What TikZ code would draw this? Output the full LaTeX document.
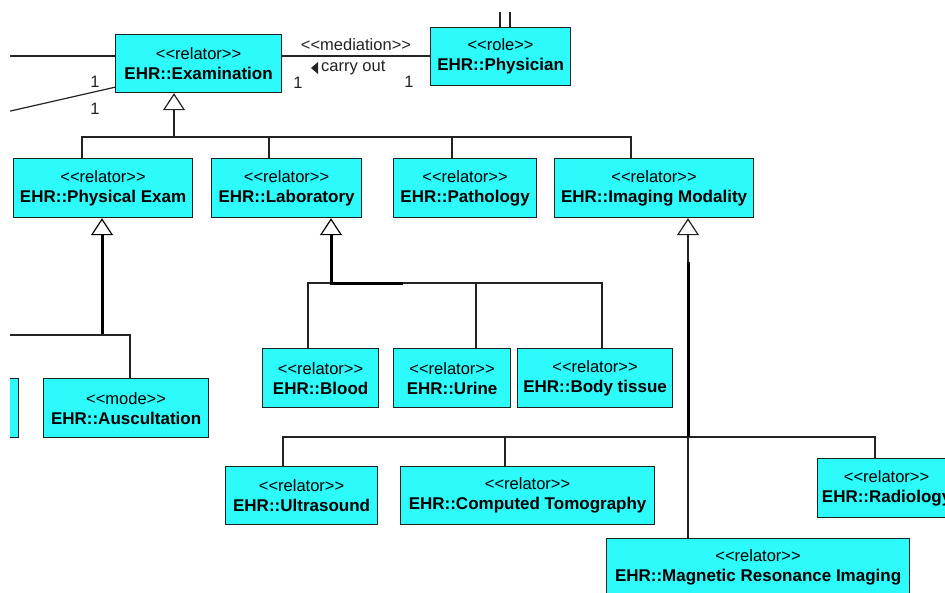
\documentclass[tikz,border=0pt]{standalone}
\usepackage{fontspec}
\setmainfont{Liberation Sans}
\usetikzlibrary{arrows.meta,calc}
\definecolor{boxfill}{RGB}{45,250,250}
\definecolor{ink}{RGB}{35,35,35}
\newcommand{\stype}[1]{<{}<#1>{}>}
\newcommand{\cname}[1]{{\fontsize{17}{21}\selectfont\bfseries #1}}
\begin{document}
\begin{tikzpicture}[x=1pt,y=-1pt,
  umlbox/.style={draw=ink, fill=boxfill, line width=1.2pt, anchor=north west,
    inner sep=0pt, minimum height=59pt, align=center,
    font=\fontsize{16.5}{21}\selectfont, text=black},
  conn/.style={draw=ink, line width=1.2pt},
  heavy/.style={draw=black, line width=3pt},
  gen/.style={conn, -{Triangle[open, length=17pt, width=22pt, line width=1.2pt]}},
  lbl/.style={font=\fontsize{16.5}{20}\selectfont, text=ink, inner sep=0pt}]

\fill[white] (0,0) rectangle (945,592);
\useasboundingbox (0,0) rectangle (945,592);

\begin{scope}
\clip (10,12) rectangle (945,592);

% ---------- classes ----------
\node[umlbox, minimum width=166pt, minimum height=58pt] (exam) at (115,34)
  {\stype{relator}\\[-1pt]\cname{EHR::Examination}};
\node[umlbox, minimum width=140pt, minimum height=58pt] (phys) at (430,27)
  {\stype{role}\\[-1pt]\cname{EHR::Physician}};

\node[umlbox, minimum width=179pt] (physexam) at (13,158)
  {\stype{relator}\\[-1pt]\cname{EHR::Physical Exam}};
\node[umlbox, minimum width=150pt] (lab) at (211,158)
  {\stype{relator}\\[-1pt]\cname{EHR::Laboratory}};
\node[umlbox, minimum width=143pt] (path) at (393,158)
  {\stype{relator}\\[-1pt]\cname{EHR::Pathology}};
\node[umlbox, minimum width=199pt] (imaging) at (554,158)
  {\stype{relator}\\[-1pt]\cname{EHR::Imaging Modality}};

\node[umlbox, anchor=north east, minimum width=80pt] (sibling) at (19,378) {};
\node[umlbox, minimum width=165pt] (ausc) at (43,378)
  {\stype{mode}\\[-1pt]\cname{EHR::Auscultation}};

\node[umlbox, minimum width=116pt] (blood) at (262,348)
  {\stype{relator}\\[-1pt]\cname{EHR::Blood}};
\node[umlbox, minimum width=117pt] (urine) at (393,348)
  {\stype{relator}\\[-1pt]\cname{EHR::Urine}};
\node[umlbox, minimum width=155pt] (body) at (517,348)
  {\stype{relator}\\[-1pt]\cname{EHR::Body tissue}};

\node[umlbox, minimum width=152pt, minimum height=58pt] (ultra) at (225,466)
  {\stype{relator}\\[-1pt]\cname{EHR::Ultrasound}};
\node[umlbox, minimum width=254pt, minimum height=58pt] (ct) at (400,466)
  {\stype{relator}\\[-1pt]\cname{EHR::Computed Tomography}};
\node[umlbox, minimum width=138pt] (radio) at (817,458)
  {\stype{relator}\\[-1pt]\cname{EHR::Radiology}};
\node[umlbox, minimum width=303pt, minimum height=58pt] (mri) at (606,538)
  {\stype{relator}\\[-1pt]\cname{EHR::Magnetic Resonance Imaging}};

% ---------- associations ----------
\coordinate (m0) at (0,56);
\draw[conn] (m0) -- (m0 -| exam.west);
\draw[conn] (m0 -| exam.east) -- (m0 -| phys.west);
\coordinate (dg) at (0,113.4);
\draw[conn] (dg) -- ($(exam.south west)+(0,-6)$);
\coordinate (u1) at (500,0);
\coordinate (u2) at (510,0);
\draw[conn] (u1) -- (u1 |- phys.north);
\draw[conn] (u2) -- (u2 |- phys.north);

\node[lbl] (medlbl) at (356,45) {\stype{mediation}};
\node[lbl, anchor=west] (carry) at (321,68) {carry out};
\fill[ink] ($(carry.west)+(-10,0)$) -- ++(7,-6) -- ++(0,12) -- cycle;
\node[lbl] (ma) at (298,83) {1};
\node[lbl] (mb) at (409,82) {1};
\node[lbl] (da) at (95,82) {1};
\node[lbl] (db) at (95,109) {1};

% ---------- generalization: Examination ----------
\coordinate (g0) at (174,137);
\coordinate (b1) at (82,137);
\coordinate (b2) at (269,137);
\coordinate (b3) at (452,137);
\coordinate (b4) at (631,137);
\draw[gen] (g0) -- (g0 |- exam.south);
\draw[conn] (b1 |- physexam.north) -- (b1) -- (b4) -- (b4 |- imaging.north);
\draw[conn] (b2) -- (b2 |- lab.north);
\draw[conn] (b3) -- (b3 |- path.north);

% ---------- generalization: Physical Exam ----------
\coordinate (p0) at (102,335);
\coordinate (pl) at (0,335);
\coordinate (pa) at (130,335);
\draw[gen, line width=3pt, draw=black] (p0) -- (p0 |- physexam.south);
\draw[conn] (pl) -- (pa) -- (pa |- ausc.north);

% ---------- generalization: Laboratory ----------
\coordinate (l0) at (331,283);
\coordinate (le) at (401,283);
\coordinate (lb1) at (308,283);
\coordinate (lb2) at (476,283);
\coordinate (lb3) at (602,283);
\draw[conn] (lb1 |- blood.north) -- (lb1) -- (lb3) -- (lb3 |- body.north);
\draw[conn] (lb2) -- (lb2 |- urine.north);
\draw[gen, line width=3pt, draw=black] (l0) -- (l0 |- lab.south);
\draw[heavy, line cap=rect] (l0) -- (le);

% ---------- generalization: Imaging Modality ----------
\coordinate (i0) at (688,437);
\coordinate (i1) at (688,262);
\coordinate (ib1) at (283,437);
\coordinate (ib2) at (505,437);
\coordinate (ib3) at (875,437);
\draw[conn] (ib1 |- ultra.north) -- (ib1) -- (ib3) -- (ib3 |- radio.north);
\draw[conn] (ib2) -- (ib2 |- ct.north);
\draw[conn] (i0) -- (i0 |- mri.north);
\draw[gen] (i0) -- (i0 |- imaging.south);
\draw[heavy] (i0) -- (i1);
\end{scope}
\end{tikzpicture}
\end{document}
